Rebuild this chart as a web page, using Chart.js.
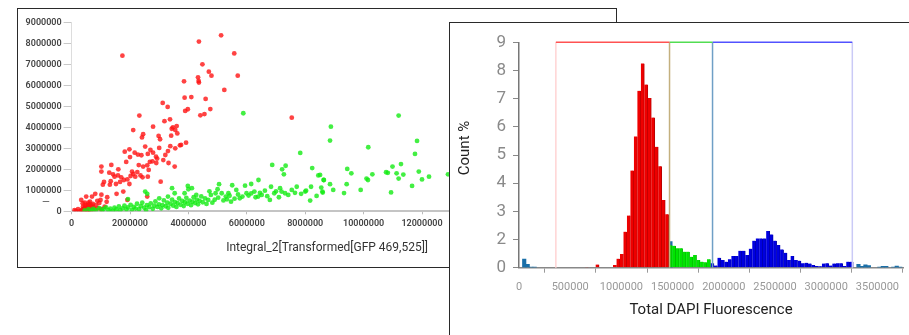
<!DOCTYPE html>
<html>
<head>
<meta charset="utf-8">
<script src="https://cdn.jsdelivr.net/npm/chart.js@4.4.0/dist/chart.umd.min.js"></script>
<style>
body { margin:0; width:909px; height:335px; overflow:hidden; position:relative; background:#fff; }
canvas, .frame { position:absolute; }
#scatter { left:17px; top:8px; z-index:1; }
#scatterFrame { left:17px; top:8px; width:600px; height:260px; border:1.5px solid #2a2a2a; box-sizing:border-box; z-index:2; }
#histBg { position:absolute; left:449px; top:22px; width:460px; height:313px; background:#fff; z-index:3; }
#hist { left:449px; top:22px; z-index:4; }
#histFrame { left:449px; top:22px; width:480px; height:330px; border:1.5px solid #2a2a2a; box-sizing:border-box; z-index:5; }
</style>
</head>
<body>
<canvas id="scatter" width="600" height="260"></canvas>
<div class="frame" id="scatterFrame"></div>
<div id="histBg"></div>
<canvas id="hist" width="460" height="313"></canvas>
<div class="frame" id="histFrame"></div>
<script>
Chart.defaults.font.family = 'Roboto';
Chart.defaults.animation = false;

// ---- scatter data (millions) ----
var redX = [1.74,4.36,5.12,5.57,4.48,4.70,4.79,5.69,4.33,4.35,4.36,3.85,5.23,3.87,4.10,4.59,3.12,3.29,3.98,3.89,
  4.75,4.41,4.55,7.54,2.32,3.37,3.18,2.11,2.79,3.47,3.55,3.60,3.43,2.45,2.41,2.98,3.03,3.41,3.62,3.92,
  3.75,2.52,1.98,1.82,2.16,2.27,2.39,3.30,2.79,2.89,2.61,3.55,3.71,3.00,3.38,2.70,1.02,1.02,1.36,1.87,
  2.07,2.11,2.02,2.25,2.45,2.68,2.59,2.77,2.93,3.14,3.21,2.90,3.32,2.30,2.00,1.60,1.42,1.29,1.47,1.59,
  1.70,1.79,1.66,1.91,1.98,2.18,2.36,2.43,2.61,2.64,3.53,3.05,1.11,1.07,1.34,1.31,1.52,0.81,0.70,1.02,
  0.99,1.22,1.54,1.77,1.91,2.59,0.33,0.50,0.45,0.56,0.39,0.67,0.84,0.10,0.22,0.27,0.50,0.62,0.90,0.58,
  0.73,0.47,0.54,0.42,0.67,0.79,0.33,1.02,1.13,0.38,0.63,0.55,0.60,0.48,0.70,0.52,0.44,0.36,0.60,0.75,
  0.15,0.95,1.20,0.88];
var redY = [7.41,8.08,8.38,7.52,7.00,6.65,6.46,6.46,6.38,6.21,6.13,6.19,5.78,5.41,5.44,5.35,5.16,4.97,4.86,4.78,
  4.87,4.57,4.63,4.46,4.56,4.38,4.29,3.87,4.03,4.00,3.87,4.06,3.93,3.67,3.52,3.59,3.43,3.60,3.71,3.27,
  3.16,3.08,2.95,2.84,2.79,2.70,2.67,2.87,2.79,2.60,2.73,3.00,3.14,3.02,3.10,2.92,2.13,1.89,2.21,2.35,
  1.89,1.78,1.68,1.87,2.13,2.35,2.19,2.38,2.51,2.44,2.68,2.30,2.30,2.20,2.58,2.00,1.76,1.84,1.65,1.71,
  1.62,1.49,1.40,1.52,1.30,1.65,1.71,1.62,1.65,1.97,2.13,1.41,1.40,1.27,1.43,1.27,1.30,0.83,0.70,0.79,
  0.54,0.67,0.83,0.94,0.54,0.70,0.54,0.70,0.41,0.30,0.22,0.22,0.29,0.06,0.10,0.00,0.00,0.14,0.14,0.41,
  0.35,0.22,0.14,0.10,0.03,0.10,0.03,0.10,0.22,0.38,0.46,0.25,0.33,0.30,0.28,0.05,0.15,0.08,0.08,0.18,
  0.02,0.40,0.45,0.50];

var greenX = [0.45,0.58,0.66,0.74,0.83,0.95,1.04,1.10,1.18,1.26,1.33,1.41,1.47,1.53,1.62,1.66,1.75,1.81,1.88,1.93,
  2.02,2.06,2.13,2.19,2.24,2.31,2.37,2.42,2.49,2.55,2.58,2.66,2.71,2.78,2.83,2.87,2.94,2.99,3.07,3.11,
  3.16,3.22,3.28,3.31,3.39,3.44,3.48,3.54,3.59,3.63,3.68,3.73,3.79,3.84,3.88,3.93,3.97,4.04,4.09,4.14,
  4.18,4.23,4.29,4.33,4.38,4.44,4.49,1.93,2.52,2.59,3.44,3.98,4.12,4.27,3.87,3.53,3.30,3.00,4.00,
  5.88,7.83,6.87,7.21,7.33,7.27,8.24,8.45,8.63,6.40,5.05,5.50,5.94,5.64,5.99,6.30,6.62,6.83,6.94,7.14,
  7.31,7.54,7.71,8.00,8.20,8.17,8.59,7.10,6.79,6.51,5.76,5.46,5.28,5.14,4.93,4.77,4.68,4.82,4.57,5.32,
  5.37,6.06,6.26,6.39,7.19,7.42,7.86,8.39,4.62,4.90,5.02,5.20,5.41,5.58,5.70,5.85,6.15,6.45,6.70,7.00,
  7.65,4.72,5.00,6.15,8.03,
  8.88,8.85,10.16,11.20,11.83,11.76,9.44,9.58,8.51,8.64,8.85,8.55,8.60,8.96,9.33,9.42,9.90,10.10,10.15,10.30,
  10.77,10.83,10.99,11.13,11.28,11.20,11.36,10.94,11.66,11.89,12.00,12.24,12.89,13.60,14.30,15.10];
var greenY = [0.04,0.10,0.02,0.12,0.06,0.15,0.03,0.11,0.19,0.06,0.13,0.02,0.17,0.09,0.23,0.05,0.14,0.27,0.09,0.19,
  0.31,0.07,0.21,0.13,0.36,0.10,0.24,0.41,0.17,0.06,0.29,0.20,0.38,0.12,0.27,0.47,0.21,0.33,0.14,0.29,
  0.52,0.24,0.41,0.17,0.36,0.56,0.27,0.44,0.21,0.39,0.61,0.31,0.49,0.25,0.43,0.64,0.36,0.51,0.29,0.46,
  0.67,0.39,0.56,0.33,0.50,0.71,0.43,0.58,0.94,0.83,1.10,1.21,1.10,0.78,0.86,0.86,0.70,0.62,1.05,
  4.67,2.78,2.21,2.00,2.17,1.76,2.06,1.71,1.49,1.49,1.29,1.24,1.22,1.02,0.86,0.67,0.98,1.17,0.86,1.10,
  0.86,1.02,1.17,0.94,1.17,0.51,0.94,0.67,0.54,0.78,0.62,0.46,0.70,0.86,0.86,0.78,0.54,0.41,0.62,0.57,
  0.86,0.75,0.94,0.70,0.94,0.78,0.83,0.73,0.35,0.55,0.65,0.52,0.74,0.60,0.80,0.70,0.85,0.88,0.72,0.95,
  0.88,0.95,1.05,1.30,0.98,
  4.03,3.37,3.05,4.56,3.35,2.73,2.02,1.81,1.73,1.49,1.29,1.13,0.89,1.02,0.87,1.29,1.02,1.56,1.49,1.76,
  1.86,1.83,2.13,1.81,2.25,1.56,1.75,0.90,1.21,1.89,1.52,1.65,1.76,1.90,2.10,1.80];

var scatterXTicks = [0, 2000000, 4000000, 6000000, 8000000, 10000000, 12000000, 14000000, 16000000];
var scatterYStep = 1000000;

// ---- histogram data (Count %, bins of 34000) ----
var binWidth = 34000;
var tealBins = [1,2,3,4,43,97,98,99,100,103,104,105,107,108,109];
var tealPct  = [0.62,0.24,0.04,0.05,1.85,0.24,0.10,0.20,0.15,0.05,0.10,0.10,0.05,0.12,0.04];
var redBins  = [12,13,18,19,22,27,28,29,30,31,32,33,34,35,36,37,38,39,40,41,42];
var redPct   = [0.04,0.04,0.04,0.05,0.22,0.19,0.64,0.97,2.28,2.85,4.45,5.66,7.28,8.25,7.50,7.02,6.33,5.29,4.60,3.40,2.90];
var greenBins = [43,44,45,46,47,48,49,50,51,52,53,54];
var greenPct  = [1.60,1.56,1.38,1.38,1.14,1.14,0.78,0.90,0.55,0.43,0.38,0.60];
var blueStart = 55;
var bluePct = [0.31,0.15,0.70,0.55,0.43,0.60,0.83,0.83,1.20,1.20,0.90,1.35,1.92,2.04,2.04,2.04,2.30,2.18,1.92,1.61,
  1.30,1.06,0.55,0.83,0.55,0.50,0.31,0.35,0.30,0.20,0.12,0.10,0.30,0.31,0.15,0.30,0.31,0.31,0.12,0.43,0.43];

var histXTicks = [0, 500000, 1000000, 1500000, 2000000, 2500000, 3000000, 3500000];
var gateEdges = [360000, 1470000, 1890000, 3255000];
var gateTop = 9;
var histYLabels = ['0','2','3','4','5','6','7','8','9'];

// y axis in the picture: 0 -> 2 takes one step, then one step per unit
function toAxis(v) { return v <= 2 ? v / 2 : v - 1; }

function pts(xs, ys) {
  var out = [];
  for (var i = 0; i < xs.length; i++) out.push({x: xs[i] * 1e6, y: ys[i] * 1e6});
  return out;
}
function bars(bins, pct) {
  var out = [];
  for (var i = 0; i < bins.length; i++) out.push({x: (bins[i] + 0.5) * binWidth, y: toAxis(pct[i])});
  return out;
}
var blueBins = [];
for (var b = 0; b < bluePct.length; b++) blueBins.push(blueStart + b);

function fixedTicks(list) {
  return function(scale) {
    scale.ticks = list.map(function(v) { return { value: v }; });
  };
}

// little dash next to the y axis
var dashMark = {
  id: 'dashMark',
  afterDraw: function(chart) {
    var c = chart.ctx;
    c.save();
    c.fillStyle = '#555';
    c.font = '10px Roboto';
    c.fillText('\u2014', 25, 197);
    c.restore();
  }
};

// y title of the histogram sits a bit above the middle of the axis
var countTitle = {
  id: 'countTitle',
  afterDraw: function(chart) {
    var c = chart.ctx;
    c.save();
    c.translate(16, 126);
    c.rotate(-Math.PI / 2);
    c.fillStyle = '#222';
    c.font = '15px Roboto';
    c.textAlign = 'center';
    c.textBaseline = 'middle';
    c.fillText('Count %', 0, 0);
    c.restore();
  }
};

new Chart(document.getElementById('scatter'), {
  type: 'scatter',
  data: {
    datasets: [
      { data: pts(greenX, greenY), backgroundColor: 'rgba(20,235,20,0.8)', pointRadius: 2.4, borderWidth: 0 },
      { data: pts(redX, redY), backgroundColor: 'rgba(255,20,20,0.8)', pointRadius: 2.4, borderWidth: 0 }
    ]
  },
  options: {
    responsive: false,
    layout: { padding: { left: 0, top: 14.3, right: 34.4, bottom: 0 } },
    plugins: { legend: { display: false }, tooltip: { enabled: false } },
    scales: {
      x: {
        type: 'linear', min: 0, max: 17500000,
        afterBuildTicks: fixedTicks(scatterXTicks),
        afterFit: function(s) { s.height = 56.7; },
        ticks: { autoSkip: false, maxRotation: 0, padding: 4,
                 color: '#444', font: { size: 9, weight: '600' },
                 callback: function(v) { return String(v); } },
        grid: { drawOnChartArea: false, tickLength: 3, color: '#bbb' },
        border: { color: '#c4c4c4', width: 2 },
        title: { display: true, text: 'Integral_2[Transformed[GFP 469,525]]', color: '#333',
                 font: { size: 12 }, padding: { top: 0, bottom: 12.8 } }
      },
      y: {
        min: 0, max: 9000000,
        afterFit: function(s) { s.width = 54.6; },
        ticks: { stepSize: scatterYStep, autoSkip: false, padding: 2, color: '#444',
                 font: { size: 9, weight: '600' }, callback: function(v) { return String(v); } },
        grid: { drawOnChartArea: false, tickLength: 8, color: '#c8c8c8' },
        border: { color: '#dddddd', width: 1 }
      }
    }
  },
  plugins: [dashMark]
});

var lineBase = { type: 'line', pointRadius: 0, borderWidth: 1.5, fill: false, order: 0, clip: false };
function gateLine(xs, ys, color) {
  var d = [];
  for (var i = 0; i < xs.length; i++) d.push({x: xs[i], y: toAxis(ys[i])});
  return Object.assign({}, lineBase, { data: d, borderColor: color });
}

new Chart(document.getElementById('hist'), {
  type: 'bar',
  data: {
    datasets: [
      { data: bars(tealBins, tealPct), backgroundColor: '#1a6fa8', order: 3 },
      { data: bars(redBins, redPct), backgroundColor: '#ee0000', borderColor: '#b80000',
        borderWidth: { left: 0, right: 1, top: 0, bottom: 0 }, order: 2 },
      { data: bars(greenBins, greenPct), backgroundColor: '#00e400', borderColor: '#00b400',
        borderWidth: { left: 0, right: 1, top: 0, bottom: 0 }, order: 2 },
      { data: bars(blueBins, bluePct), backgroundColor: '#0000e0', borderColor: '#0000a8',
        borderWidth: { left: 0, right: 1, top: 0, bottom: 0 }, order: 2 },
      gateLine([gateEdges[0], gateEdges[1]], [gateTop, gateTop], '#ff5252'),
      gateLine([gateEdges[1], gateEdges[2]], [gateTop, gateTop], '#52dd52'),
      gateLine([gateEdges[2], gateEdges[3]], [gateTop, gateTop], '#5252ff'),
      gateLine([gateEdges[0], gateEdges[0]], [0, gateTop], '#ffd4d4'),
      gateLine([gateEdges[1], gateEdges[1]], [0, gateTop], '#c4b07e'),
      gateLine([gateEdges[2], gateEdges[2]], [0, gateTop], '#6f9fc6'),
      gateLine([gateEdges[3], gateEdges[3]], [0, gateTop], '#cacaf6')
    ]
  },
  options: {
    responsive: false,
    datasets: { bar: { barPercentage: 1, categoryPercentage: 1, grouped: false } },
    layout: { padding: { left: 0, top: 20.3, right: 6, bottom: 0 } },
    plugins: { legend: { display: false }, tooltip: { enabled: false } },
    scales: {
      x: {
        type: 'linear', min: 0, max: 3750000, offset: false,
        afterBuildTicks: fixedTicks(histXTicks),
        afterFit: function(s) { s.height = 67.3; },
        ticks: { autoSkip: false, maxRotation: 0, padding: 8,
                 color: '#999', font: { size: 11 }, callback: function(v) { return String(v); } },
        grid: { drawOnChartArea: false, tickLength: 5, color: '#999' },
        border: { color: '#888', width: 1.5 },
        title: { display: true, text: 'Total DAPI Fluorescence', color: '#222', font: { size: 15 },
                 padding: { top: 0, bottom: 16 } }
      },
      y: {
        min: 0, max: 8,
        afterFit: function(s) { s.width = 70; },
        ticks: { stepSize: 1, autoSkip: false, padding: 7, color: '#8a8a8a', font: { size: 17 },
                 callback: function(v) { return histYLabels[v]; } },
        grid: { drawOnChartArea: false, tickLength: 6, color: '#888' },
        border: { color: '#777', width: 1.5 }
      }
    }
  },
  plugins: [countTitle]
});
</script>
</body>
</html>
